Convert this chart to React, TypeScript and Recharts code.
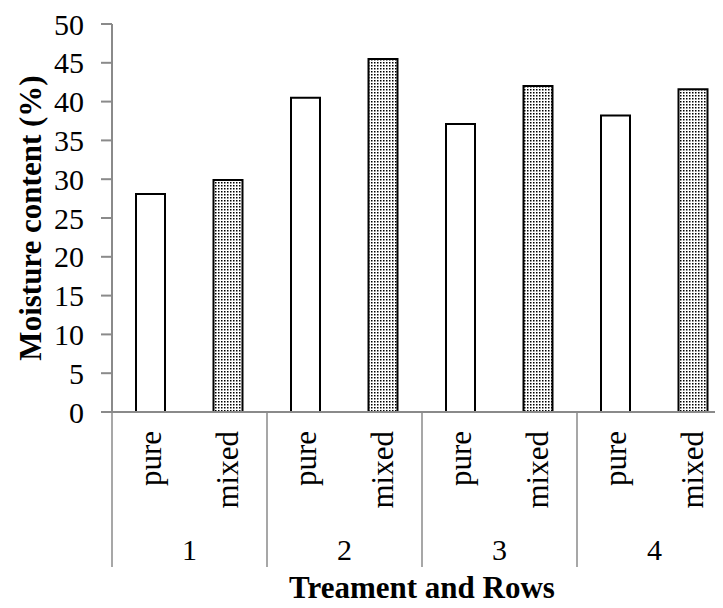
import { BarChart, Bar, XAxis, YAxis, Cell } from "recharts";

const groups = ["1", "2", "3", "4"];
const kinds = ["pure", "mixed"];
const pureValues = [28.1, 40.5, 37.1, 38.2];
const mixedValues = [29.9, 45.5, 42.0, 41.6];
const yTicks = [0, 5, 10, 15, 20, 25, 30, 35, 40, 45, 50];

const data = groups.flatMap((g, i) => [
  { group: g, kind: kinds[0], value: pureValues[i] },
  { group: g, kind: kinds[1], value: mixedValues[i] },
]);

const FONT = '"Liberation Serif", "Times New Roman", serif';
const AXIS = "#8a8a8a";

const W = 734;
const H = 600;
const M = { top: 16, right: 10, left: 24, bottom: 0 };
const Y_W = 80;
const STEP = (W - M.left - M.right - Y_W) / data.length;

function XTick(props: any) {
  const { x, y, payload, index } = props;
  const row = data[index];
  const half = STEP / 2;
  return (
    <g>
      <text
        transform={`translate(${x + 10},${y + 19}) rotate(-90)`}
        textAnchor="end"
        fontFamily={FONT}
        fontSize={31}
        fill="#000"
      >
        {payload.value}
      </text>
      {index % 2 === 0 && (
        <>
          <line x1={x - half} x2={x - half} y1={y} y2={y + 155} stroke={AXIS} strokeWidth={1.5} />
          <text x={x + half} y={y + 148} textAnchor="middle" fontFamily={FONT} fontSize={30} fill="#000">
            {row.group}
          </text>
        </>
      )}
      {index === data.length - 1 && (
        <line x1={x + half} x2={x + half} y1={y} y2={y + 155} stroke={AXIS} strokeWidth={1.5} />
      )}
    </g>
  );
}

export default function App() {
  return (
    <div style={{ width: 715, height: 600, overflow: "hidden" }}>
      <BarChart width={W} height={H} data={data} margin={M}>
        <defs>
          <pattern id="dots" width="3" height="3" patternUnits="userSpaceOnUse">
            <rect width="3" height="3" fill="#fff" />
            <rect x="0" y="0" width="1.5" height="1.5" fill="#000" />
          </pattern>
        </defs>
        <XAxis
          dataKey="kind"
          interval={0}
          height={H - M.top - M.bottom - 388}
          tickLine={false}
          tickSize={0}
          tickMargin={0}
          axisLine={{ stroke: AXIS, strokeWidth: 2 }}
          tick={<XTick />}
          label={{
            content: (p: any) => {
              const vb = p.viewBox;
              return (
                <text
                  x={vb.x + vb.width / 2}
                  y={vb.y + 186}
                  textAnchor="middle"
                  fontFamily={FONT}
                  fontSize={31}
                  fontWeight="bold"
                  fill="#000"
                >
                  Treament and Rows
                </text>
              );
            },
          }}
        />
        <YAxis
          width={Y_W}
          domain={[0, 50]}
          ticks={yTicks}
          interval={0}
          tickSize={11}
          tickMargin={17}
          axisLine={{ stroke: AXIS, strokeWidth: 2 }}
          tickLine={{ stroke: AXIS, strokeWidth: 2 }}
          tick={{ fontFamily: FONT, fontSize: 30, fill: "#000" }}
          label={{
            content: (p: any) => {
              const vb = p.viewBox;
              const cx = vb.x - 1;
              const cy = vb.y + vb.height / 2;
              return (
                <text
                  transform={`translate(${cx + 10},${cy}) rotate(-90)`}
                  textAnchor="middle"
                  fontFamily={FONT}
                  fontSize={31}
                  fontWeight="bold"
                  fill="#000"
                >
                  Moisture content (%)
                </text>
              );
            },
          }}
        />
        <Bar dataKey="value" barSize={29} stroke="#000" strokeWidth={2} isAnimationActive={false}>
          {data.map((d, i) => (
            <Cell key={i} fill={d.kind === "pure" ? "#fff" : "url(#dots)"} />
          ))}
        </Bar>
      </BarChart>
    </div>
  );
}
